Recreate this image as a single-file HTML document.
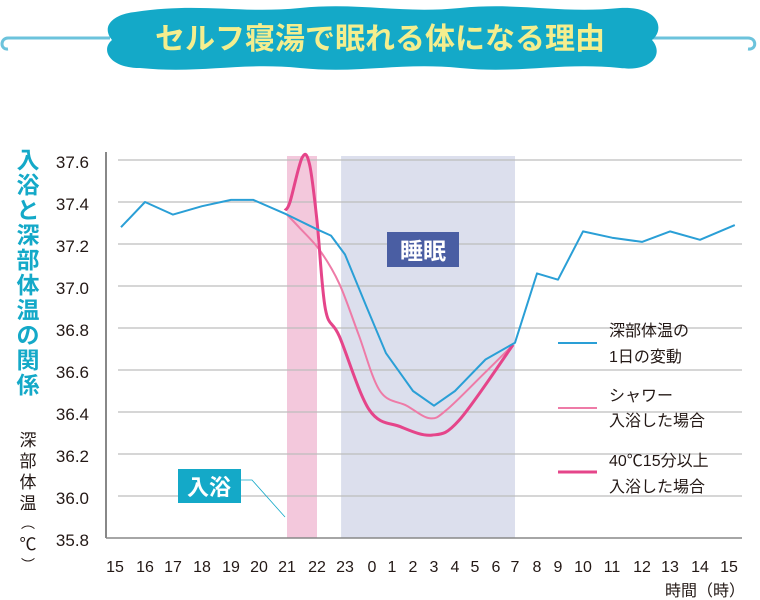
<!DOCTYPE html>
<html><head><meta charset="utf-8"><style>
body{margin:0;background:#fff;}
svg{display:block;font-family:"Liberation Sans","Noto Sans CJK JP",sans-serif;}
</style></head><body>
<svg id="chart" width="760" height="600" viewBox="0 0 760 600">
<g>
<path d="M8,38 H110 M650,38 H748" stroke="#6cc3dc" stroke-width="3" fill="none"/>
<path d="M8,38 C0,38 0,50 8,49" stroke="#6cc3dc" stroke-width="3" fill="none"/>
<path d="M748,38 C757,38 757,50 748,49" stroke="#6cc3dc" stroke-width="3" fill="none"/>
<path d="M135,12 C200,2 240,14 300,8 C360,2 400,14 460,8 C520,2 560,14 620,8 C660,6 665,30 652,40 C665,55 650,72 620,68 C560,62 520,74 460,68 C400,62 360,74 300,68 C240,62 200,74 140,68 C110,68 100,50 112,40 C100,25 115,14 135,12 Z" fill="#14a9c8"/>
<text x="380" y="49" text-anchor="middle" font-size="30" font-weight="bold" fill="#f4ee8e">セルフ寝湯で眠れる体になる理由</text>
</g>
<g id="bands"></g>
<g id="grid"></g>
<line x1="106" y1="152" x2="106" y2="538" stroke="#888" stroke-width="2"/>
<line x1="106" y1="538" x2="742" y2="538" stroke="#888" stroke-width="1.5"/>
<g><rect x="387" y="232" width="72" height="35" fill="#4a5ea3"/><text x="423" y="259" text-anchor="middle" font-size="23" font-weight="bold" fill="#fff">睡眠</text></g>
<g id="series"></g>
<g id="yticks"></g>
<g id="xticks"></g>
<g><rect x="178" y="469" width="63" height="34" fill="#14a9c8"/><text x="209" y="495" text-anchor="middle" font-size="22" font-weight="bold" fill="#fff">入浴</text>
<path d="M241,480 H252 L285,517" stroke="#14a9c8" stroke-width="0.8" fill="none"/></g>
<g font-size="23" font-weight="bold" fill="#14a9c8" text-anchor="middle">
<text x="28" y="168">入</text><text x="28" y="193">浴</text><text x="28" y="218">と</text><text x="28" y="243">深</text><text x="28" y="268">部</text><text x="28" y="293">体</text><text x="28" y="318">温</text><text x="28" y="343">の</text><text x="28" y="368">関</text><text x="28" y="393">係</text></g>
<g font-size="17" fill="#231815" text-anchor="middle">
<text x="28" y="446">深</text><text x="28" y="467">部</text><text x="28" y="488">体</text><text x="28" y="509">温</text><text x="28" y="528" font-size="14">︵</text><text x="28" y="550">℃</text><text x="28" y="570" font-size="14">︶</text></g>
<text x="745" y="596" text-anchor="end" font-size="16" fill="#231815">時間（時）</text>
<g font-size="16" fill="#231815">
<g><line x1="558" y1="343" x2="597" y2="343" stroke="#2a9fd6" stroke-width="2"/><text x="609" y="336">深部体温の</text><text x="609" y="362">1日の変動</text></g>
<g><line x1="558" y1="408" x2="597" y2="408" stroke="#ee7ba7" stroke-width="2"/><text x="609" y="401">シャワー</text><text x="609" y="426">入浴した場合</text></g>
<g><line x1="558" y1="472" x2="597" y2="472" stroke="#e5458a" stroke-width="3"/><text x="609" y="466">40℃15分以上</text><text x="609" y="492">入浴した場合</text></g>
</g>
</svg>
<script>
const hourLabels=["15","16","17","18","19","20","21","22","23","0","1","2","3","4","5","6","7","8","9","10","11","12","13","14","15"];
const yTicks=[37.6,37.4,37.2,37.0,36.8,36.6,36.4,36.2,36.0,35.8];
const dailyHours=[15.2,16,17,18,19,19.8,21,22,22.5,23,23.8,24.7,26,27,28,29.5,31,32,33,34,35,36,37,38,39.2];
const dailyTemps=[37.28,37.40,37.34,37.38,37.41,37.41,37.34,37.27,37.24,37.15,36.90,36.68,36.50,36.43,36.50,36.65,36.73,37.06,37.03,37.26,37.23,37.21,37.26,37.22,37.29];
const showerHours=[21,21.4,22.1,22.8,23.5,24.4,25.7,26.8,27.6,29.4,30.9];
const showerTemps=[37.34,37.28,37.17,37.01,36.77,36.50,36.43,36.37,36.41,36.58,36.72];
const bathHours=[20.93,21.1,21.5,21.75,22.0,22.3,22.8,23.9,25.4,26.9,28.2,30.9];
const bathTemps=[37.36,37.40,37.61,37.58,37.31,36.89,36.76,36.41,36.33,36.29,36.36,36.72];
const bathBand=[21,22];
const sleepBand=[22.86,31];
// axis scale: tick pixel positions for each hour (15..39) - non-uniform axis
const tickPx=[115,145,173,202,231,259,287,317,345,372,392,413,434,455,475,496,515,537,558,583,612,642,670,700,729];
function x(h){let i=Math.floor(h-15);if(i<0)i=0;if(i>23)i=23;const f=h-15-i;return tickPx[i]+(tickPx[i+1]-tickPx[i])*f;}
function y(v){return 160+(37.6-v)*(378/1.8);}
const NS="http://www.w3.org/2000/svg";
function mk(t,a,p){const e=document.createElementNS(NS,t);for(const k in a)e.setAttribute(k,a[k]);p.appendChild(e);return e;}
const bands=document.getElementById('bands');
const b1=mk('rect',{x:x(bathBand[0]),y:156,width:x(bathBand[1])-x(bathBand[0]),height:382,fill:'#f3c8dc'},bands);


const b2=mk('rect',{x:x(sleepBand[0]),y:156,width:x(sleepBand[1])-x(sleepBand[0]),height:382,fill:'#dcdfed'},bands);


const grid=document.getElementById('grid'),yt=document.getElementById('yticks');
yTicks.forEach(v=>{
 if(v>35.85){const l=mk('line',{x1:118,x2:742,y1:y(v),y2:y(v),stroke:'#bdbdbd','stroke-width':1.2},grid);
 
 }
 const t=mk('text',{x:89,y:y(v)+8,'text-anchor':'end','font-size':17,fill:'#231815'},yt);t.textContent=v.toFixed(1);
 
 
});
const xt=document.getElementById('xticks');
hourLabels.forEach((s,i)=>{const t=mk('text',{x:x(15+i),y:572,'text-anchor':'middle','font-size':16,fill:'#231815'},xt);t.textContent=s;
 
 });
function smooth(xs,ys){const P=xs.map((h,i)=>[x(h),y(ys[i])]);let d=`M${P[0][0]},${P[0][1]}`;
 for(let i=0;i<P.length-1;i++){const p0=P[i-1]||P[i],p1=P[i],p2=P[i+1],p3=P[i+2]||p2;
 d+=` C${p1[0]+(p2[0]-p0[0])/6},${p1[1]+(p2[1]-p0[1])/6} ${p2[0]-(p3[0]-p1[0])/6},${p2[1]-(p3[1]-p1[1])/6} ${p2[0]},${p2[1]}`;}return d;}
function linear(xs,ys){return xs.map((h,i)=>(i?'L':'M')+x(h)+','+y(ys[i])).join(' ');}
const sg=document.getElementById('series');
const s1=mk('path',{d:smooth(showerHours,showerTemps),fill:'none',stroke:'#ee7ba7','stroke-width':2},sg);


const s2=mk('path',{d:smooth(bathHours,bathTemps),fill:'none',stroke:'#e5458a','stroke-width':3},sg);


const s3=mk('path',{d:linear(dailyHours,dailyTemps),fill:'none',stroke:'#2a9fd6','stroke-width':2,'stroke-linejoin':'round'},sg);


</script>
</body></html>
